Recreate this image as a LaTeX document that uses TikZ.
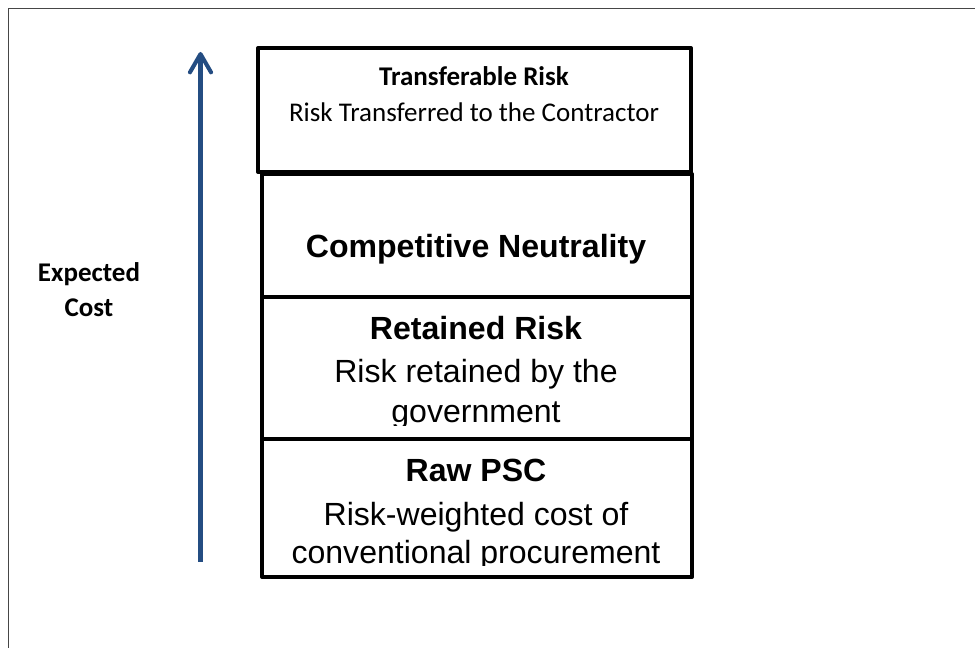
\documentclass[tikz,border=0pt]{standalone}
\usepackage{fontspec}
\setmainfont{Liberation Sans}
\newfontfamily\calibri{Carlito}
\usetikzlibrary{arrows.meta}
\definecolor{costblue}{RGB}{36,77,130}
\definecolor{framegray}{RGB}{70,70,70}
\tikzset{
  box/.style={draw,line width=2.9pt,line join=round},
  bighead/.style={anchor=base,inner sep=0pt,font=\fontsize{22.8}{28}\selectfont\bfseries},
  bigtext/.style={anchor=base,inner sep=0pt,font=\fontsize{22.8}{28}\selectfont},
  smallhead/.style={anchor=base,inner sep=0pt,font=\calibri\fontsize{19.2}{24}\selectfont\bfseries},
  smalltext/.style={anchor=base,inner sep=0pt,font=\calibri\fontsize{19.2}{24}\selectfont}
}
\begin{document}
\begin{tikzpicture}[x=0.025cm,y=-0.025cm]
  \useasboundingbox (0,0) rectangle (975,648);
  % outer frame, cut off at right and bottom
  \draw[framegray,line width=0.8pt] (8.3,648) -- (8.3,8.3) -- (975,8.3);
  % cost arrow
  \coordinate (costfoot) at (200.5,562);
  \coordinate (costtip) at (200.5,52);
  \draw[costblue,line width=2.9pt,-{Straight Barb[length=13pt,width=15pt,line cap=round,line join=round]}] (costfoot) -- (costtip);
  \node[smallhead] (expected) at (89,282) {Expected};
  \node[smallhead] (cost) at (89,317) {Cost};
  % stacked boxes
  \draw[box] (258,48) rectangle (691,172);
  \draw[box] (262,174) rectangle (692,297);
  \draw[box] (262,297) rectangle (692,439);
  \draw[box] (262,439) rectangle (692,577);
  \node[smallhead] (transfertitle) at (474,86) {Transferable Risk};
  \node[smalltext] (transfertext) at (474,122) {Risk Transferred to the Contractor};
  \node[bighead] (neutrality) at (476,258) {Competitive Neutrality};
  \node[bighead] (retainedtitle) at (476,340) {Retained Risk};
  \node[bigtext] (retainedtext) at (476,383) {Risk retained by the};
  \begin{scope}
    \clip (264,299) rectangle (690,426);
    \node[bigtext] (retainedmore) at (476,423) {government};
  \end{scope}
  \node[bighead] (rawtitle) at (476,482) {Raw PSC};
  \node[bigtext] (rawtext) at (476,526) {Risk-weighted cost of};
  \begin{scope}
    \clip (264,441) rectangle (690,566);
    \node[bigtext] (rawmore) at (476,564) {conventional procurement};
  \end{scope}
\end{tikzpicture}
\end{document}
